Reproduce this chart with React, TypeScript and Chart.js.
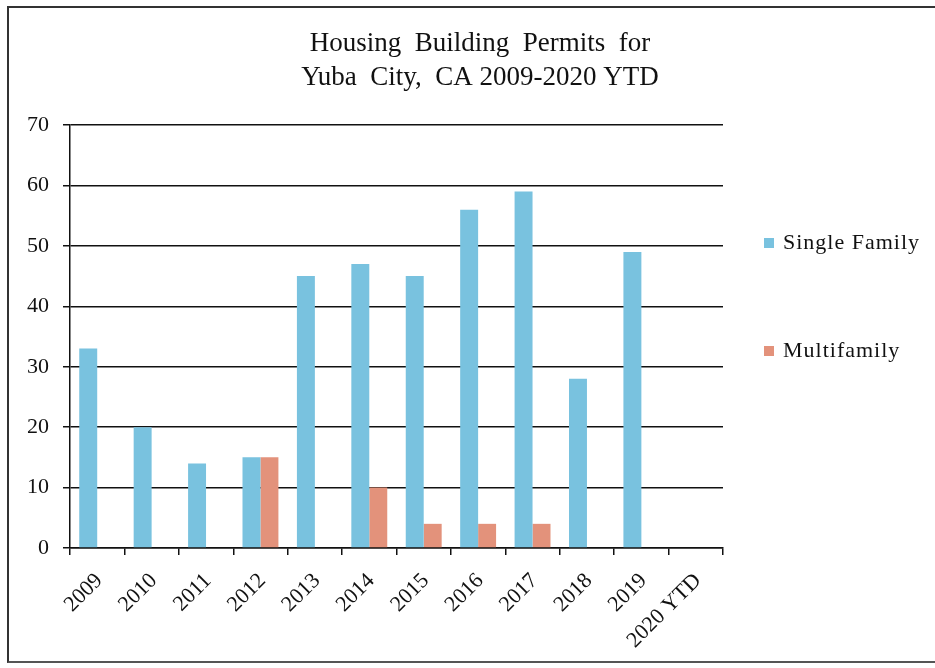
import React, { useEffect, useRef } from "react";
import { Chart, registerables } from "chart.js";

Chart.register(...registerables);

const categories = ["2009", "2010", "2011", "2012", "2013", "2014", "2015", "2016", "2017", "2018", "2019", "2020 YTD"];
const singleFamily = [33, 20, 14, 15, 45, 47, 45, 56, 59, 28, 49, 0];
const multifamily = [0, 0, 0, 15, 0, 10, 4, 4, 4, 0, 0, 0];
const titleLines = ["Housing  Building  Permits  for", "Yuba  City,  CA 2009-2020 YTD"];
const seriesNames = ["Single Family", "Multifamily"];
const seriesColors = ["#79c2df", "#e3927b"];

const FONT = "'Liberation Serif', 'Times New Roman', serif";

const legendPlugin = {
  id: "customLegend",
  afterDraw(chart: any) {
    const ctx = chart.ctx;
    const ys = [243, 351];
    ctx.save();
    chart.data.datasets.forEach((ds: any, i: number) => {
      const y = ys[i];
      ctx.fillStyle = ds.backgroundColor;
      ctx.fillRect(739, y - 5, 10, 10);
      ctx.fillStyle = "#111";
      ctx.font = `22px ${FONT}`;
      try {
        (ctx as any).letterSpacing = "1px";
      } catch (e) {}
      ctx.textBaseline = "middle";
      ctx.textAlign = "left";
      ctx.fillText(ds.label, 758, y);
    });
    ctx.restore();
  },
};

export default function App() {
  const ref = useRef<HTMLCanvasElement | null>(null);

  useEffect(() => {
    document.body.style.margin = "0";
    const canvas = ref.current;
    if (!canvas) return;
    const chart = new Chart(canvas, {
      type: "bar",
      data: {
        labels: categories,
        datasets: [
          { label: seriesNames[0], data: singleFamily, backgroundColor: seriesColors[0], borderWidth: 0, yAxisID: "y" },
          { label: seriesNames[1], data: multifamily, backgroundColor: seriesColors[1], borderWidth: 0, yAxisID: "y" },
        ],
      },
      options: {
        responsive: false,
        animation: false,
        layout: { padding: 0 },
        datasets: {
          bar: { categoryPercentage: 0.66, barPercentage: 1.0 },
        },
        plugins: {
          legend: { display: false },
          tooltip: { enabled: false },
          title: {
            display: true,
            text: titleLines,
            color: "#111",
            font: { family: FONT, size: 27, weight: "normal", lineHeight: 1.26 },
            padding: { top: 27, bottom: 30 },
          },
        },
        scales: {
          x: {
            offset: true,
            grid: {
              offset: true,
              drawOnChartArea: false,
              drawTicks: true,
              tickLength: 7,
              color: "#111",
              lineWidth: 1.5,
            },
            border: { color: "#111", width: 1.5 },
            ticks: {
              color: "#111",
              font: { family: FONT, size: 22 },
              minRotation: 45,
              maxRotation: 45,
              padding: 13,
              labelOffset: 2,
              autoSkip: false,
            },
            afterFit(scale: any) {
              scale.height = 120;
            },
          },
          y: {
            min: 0,
            max: 70,
            grid: {
              color: "#111",
              lineWidth: 1.5,
              tickLength: 7,
            },
            border: { color: "#111", width: 1.5 },
            ticks: {
              stepSize: 10,
              color: "#111",
              font: { family: FONT, size: 22 },
              padding: 14,
            },
            afterFit(scale: any) {
              scale.width = 45;
            },
          },
          legendSpace: {
            type: "linear",
            position: "right",
            display: true,
            grid: { display: false },
            ticks: { display: false },
            border: { display: false },
            afterFit(scale: any) {
              scale.width = 212;
            },
          },
        },
      },
      plugins: [legendPlugin],
    });
    return () => chart.destroy();
  }, []);

  return (
    <div style={{ position: "relative", width: 935, height: 668, background: "#fff", overflow: "hidden" }}>
      <div
        style={{
          position: "absolute",
          left: 7,
          top: 6,
          width: 940,
          height: 657,
          borderLeft: "2px solid #333",
          borderTop: "2px solid #333",
          borderBottom: "2px solid #555",
          boxSizing: "border-box",
        }}
      />
      <canvas ref={ref} width={910} height={668} style={{ position: "absolute", left: 25, top: 0 }} />
    </div>
  );
}
